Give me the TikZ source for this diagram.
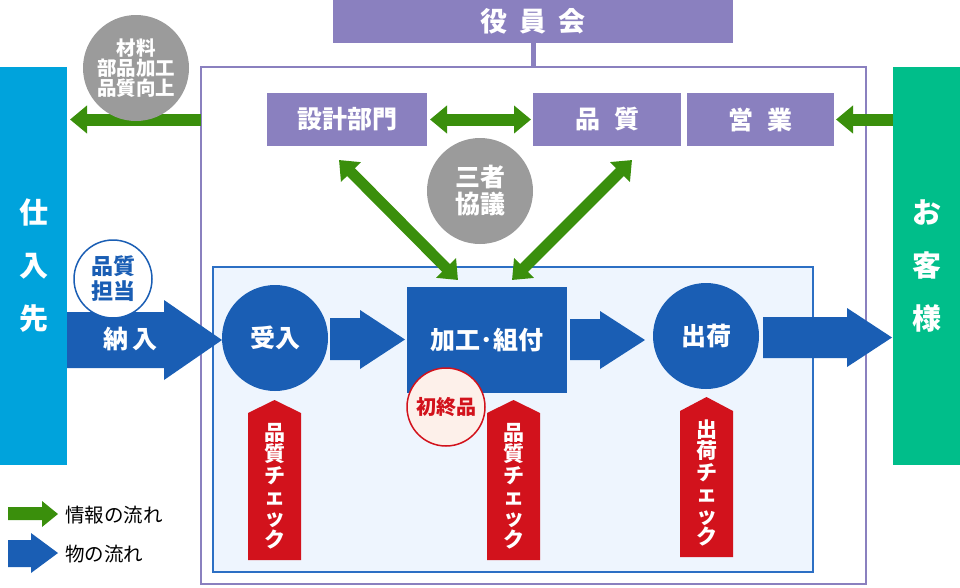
\documentclass[tikz,border=0pt]{standalone}
\usepackage{fontspec}
\setmainfont{Noto Sans CJK JP}
\usetikzlibrary{arrows.meta}
\definecolor{pur}{HTML}{8A80BF}
\definecolor{grn}{HTML}{3A8F0C}
\definecolor{blu}{HTML}{1A5EB4}
\definecolor{cyn}{HTML}{00A3DC}
\definecolor{emr}{HTML}{00BE8A}
\definecolor{redc}{HTML}{D2121C}
\definecolor{gry}{HTML}{9B9B9B}
\definecolor{inbg}{HTML}{EEF5FE}
\definecolor{inbd}{HTML}{2C6FC4}
\definecolor{pinkbg}{HTML}{FDF0EA}
\newcommand{\fs}[1]{\fontsize{#1}{#1}\selectfont}
\begin{document}
\begin{tikzpicture}[x=1pt,y=-1pt,
  every node/.style={inner sep=0pt, outer sep=0pt},
  pbox/.style={fill=pur, minimum height=53pt, text=white, font=\bfseries\fs{25}},
  sidebar/.style={minimum width=67pt, minimum height=398pt, text=white, align=center, font=\bfseries\fontsize{29}{53}\selectfont},
  gcirc/.style={circle, fill=gry, minimum size=106pt, text=white, align=center},
  bcirc/.style={circle, fill=blu, minimum size=106pt, text=white, font=\bfseries\fs{25}},
  ginfo/.style={grn, line width=12pt},
  gtip/.style={-{Triangle[length=17pt,width=27pt]}},
  gtips/.style={{Triangle[length=17pt,width=27pt]}-{Triangle[length=17pt,width=27pt]}},
  vtext/.style={text=white, align=center, font=\bfseries\fontsize{21}{21.4}\selectfont},
  legend/.style={anchor=west, font=\fs{19.5}}
]
\useasboundingbox (0,0) rectangle (960,587);
% frames
\node[draw=pur, line width=2pt, fill=white, minimum width=665pt, minimum height=517pt] (outer) at (533.5,325.5) {};
\node[draw=inbd, line width=2pt, fill=inbg, minimum width=600pt, minimum height=305pt] (inner) at (513,419.5) {};
% board
\node[fill=pur, minimum width=400pt, minimum height=43pt, text=white, font=\bfseries\fs{27}] (board) at (533,21.5) {役\hspace{12pt}員\hspace{12pt}会};
\draw[pur, line width=5pt] (board.south) -- (board.south |- outer.north);
% departments
\node[pbox, minimum width=160pt] (sekkei) at (347,119.5) {設計部門};
\node[pbox, minimum width=148pt] (hinshitsu) at (607,119.5) {品\hspace{14pt}質};
\node[pbox, minimum width=147pt] (eigyo) at (760.5,119.5) {営\hspace{14pt}業};
% side bars
\node[sidebar, fill=cyn] (shiire) at (33.5,266) {仕\\入\\先};
\node[sidebar, fill=emr] (kyaku) at (926.5,266) {お\\客\\様};
% process nodes
\node[bcirc] (ukeire) at (275,338) {受入};
\node[fill=blu, minimum width=160pt, minimum height=106pt, text=white, font=\bfseries\fs{25}] (kako) at (487,340) {加工･組付};
\node[bcirc] (shukka) at (706,336) {出荷};
% green info arrows
\draw[ginfo, gtip] (outer.west |- sekkei) -- ([xshift=3pt]shiire.east |- sekkei);
\draw[ginfo, gtip] (kyaku.west |- eigyo) -- ([xshift=2pt]eigyo.east);
\draw[ginfo, gtips] ([xshift=3pt]sekkei.east) -- ([xshift=-2pt]hinshitsu.west);
\coordinate (d1) at (339,160);
\coordinate (d2) at (458,280);
\coordinate (d3) at (632,160);
\coordinate (d4) at (512,280);
\draw[grn, line width=11pt, gtips] (d1) -- (d2);
\draw[grn, line width=11pt, gtips] (d3) -- (d4);
% gray circles
\node[gcirc, font=\bfseries\fontsize{19.5}{20}\selectfont] (zairyo) at (136,68) {材料\\部品加工\\品質向上};
\node[gcirc, font=\bfseries\fontsize{25}{27}\selectfont] (sansha) at (480,191) {三者\\協議};
% blue flow arrows
\fill[blu] (67,312) -- (164,312) -- (164,300) -- (222,340) -- (164,380) -- (164,368) -- (67,368) -- cycle;
\node[text=white, font=\bfseries\fs{25}] (nonyu) at (130,339) {納\hspace{4pt}入};
\fill[blu] (330,318) -- (360,318) -- (360,310) -- (405,339.5) -- (360,369) -- (360,360) -- (330,360) -- cycle;
\fill[blu] (570,319) -- (600,319) -- (600,311) -- (645,340) -- (600,369) -- (600,360) -- (570,360) -- cycle;
\fill[blu] (763,317) -- (847,317) -- (847,308) -- (892,337.5) -- (847,367) -- (847,358) -- (763,358) -- cycle;
% quality staff circle
\node[circle, draw=blu, line width=1.5pt, fill=white, minimum size=78pt, text=blu, align=center, font=\bfseries\fontsize{22}{25}\selectfont] (tanto) at (113,279) {品質\\担当};
% red check arrows
\fill[redc] (248,413) -- (274.5,400) -- (301,413) -- (301,560) -- (248,560) -- cycle;
\node[vtext] (chk1) at (274.5,486) {品\\質\\チ\\ェ\\ッ\\ク};
\fill[redc] (487,413) -- (513.5,400) -- (540,413) -- (540,560) -- (487,560) -- cycle;
\node[vtext] (chk2) at (513.5,486) {品\\質\\チ\\ェ\\ッ\\ク};
\fill[redc] (680,411) -- (706.5,397) -- (733,411) -- (733,557) -- (680,557) -- cycle;
\node[vtext] (chk3) at (706.5,483) {出\\荷\\チ\\ェ\\ッ\\ク};
% first article circle
\node[circle, draw=redc, line width=1.5pt, fill=pinkbg, minimum size=78pt, text=redc, font=\bfseries\fs{20}] (shoshu) at (446,407) {初終品};
% legend
\fill[grn] (8,507) -- (42,507) -- (42,501) -- (58,514) -- (42,527) -- (42,520) -- (8,520) -- cycle;
\node[legend] (lg1) at (65,515) {情報の流れ};
\fill[blu] (8,540) -- (31,540) -- (31,533) -- (58,553) -- (31,573) -- (31,567) -- (8,567) -- cycle;
\node[legend] (lg2) at (65,554) {物の流れ};
\end{tikzpicture}
\end{document}
